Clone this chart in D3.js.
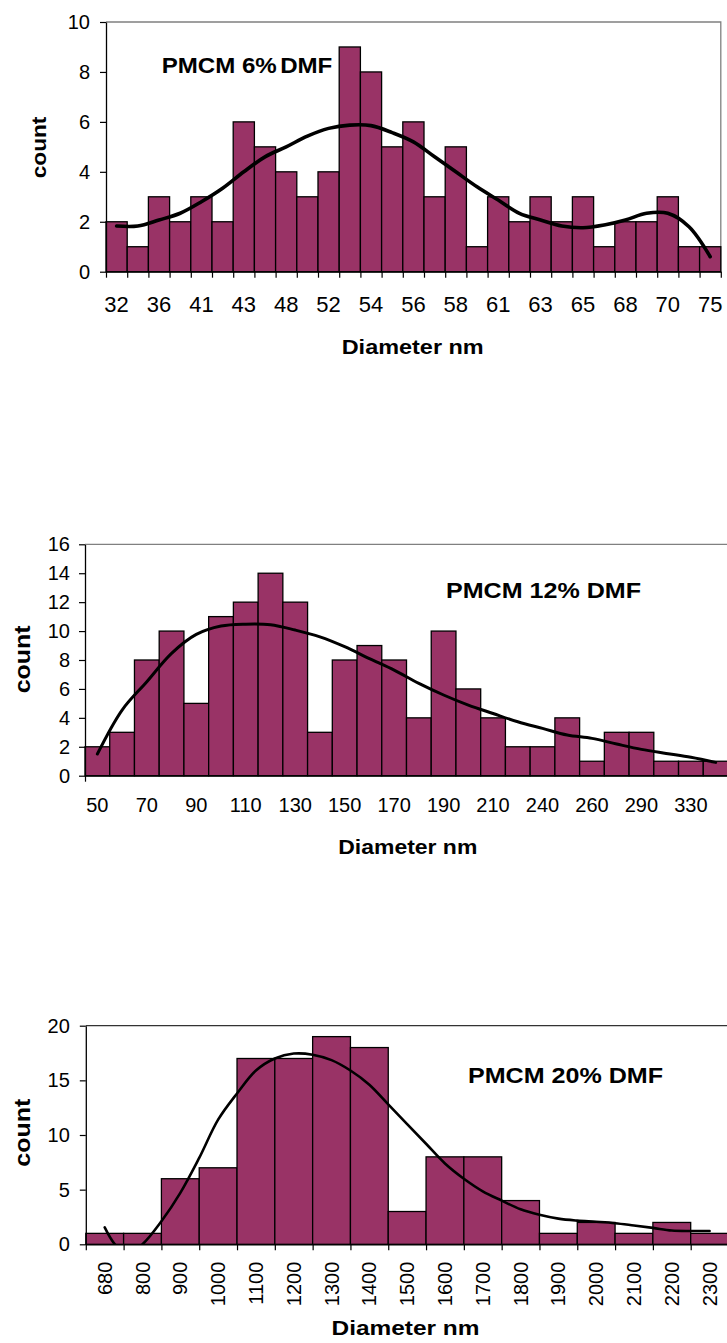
<!DOCTYPE html>
<html>
<head>
<meta charset="utf-8">
<script src="https://cdn.jsdelivr.net/npm/d3@7/dist/d3.min.js"></script>
<style>
  html, body { margin: 0; padding: 0; background: #fff; }
  svg { display: block; }
  text { font-family: "Liberation Sans", Arial, sans-serif; fill: #000; }
</style>
</head>
<body>
<svg id="chart" width="727" height="1343"></svg>
<script>
// ---- PMCM 6% DMF ----
const bins6 = ["32","34","36","38","41","42","43","45","48","50","52","53","54","55","56","57","58","60","61","62","63","64","65","67","68","69","70","72","75"];
const counts6 = [2,1,3,2,3,2,6,5,4,3,4,9,8,5,6,3,5,1,3,2,3,2,3,1,2,2,3,1,1];
const labels6 = ["32","36","41","43","48","52","54","56","58","61","63","65","68","70","75"];
const yTicks6 = [0,2,4,6,8,10];
// trend line: [bin position, count]
const trend6 = [[0,1.83],[1,1.83],[2,2.07],[3,2.34],[4,2.8],[5,3.34],[6,4.0],[7,4.6],[8,5.0],[9,5.43],[10,5.74],[11,5.87],[12,5.85],[13,5.57],[14,5.2],[15,4.6],[16,4.0],[17,3.4],[18,2.87],[19,2.34],[20,2.07],[21,1.83],[22,1.76],[23,1.87],[24,2.07],[25,2.34],[26,2.34],[27,1.8],[28,0.6]];

// ---- PMCM 12% DMF ----
const bins12 = ["50","60","70","80","90","100","110","120","130","140","150","160","170","180","190","200","210","220","240","250","260","280","290","310","330","350"];
const counts12 = [2,3,8,10,5,11,12,14,12,3,8,9,8,4,10,6,4,2,2,4,1,3,3,1,1,1];
const labels12 = ["50","70","90","110","130","150","170","190","210","240","260","290","330"];
const yTicks12 = [0,2,4,6,8,10,12,14,16];
const trend12 = [[0,1.5],[1,4.54],[2,6.5],[3,8.46],[4,9.77],[5,10.35],[6,10.48],[7,10.44],[8,10.07],[9,9.6],[10,8.92],[11,8.1],[12,7.3],[13,6.38],[14,5.58],[15,4.88],[16,4.3],[17,3.73],[18,3.27],[19,2.81],[20,2.58],[21,2.19],[22,1.82],[23,1.54],[24,1.27],[25,0.92]];

// ---- PMCM 20% DMF ----
const bins20 = ["680","800","900","1000","1100","1200","1300","1400","1500","1600","1700","1800","1900","2000","2100","2200","2300"];
const counts20 = [1,1,6,7,17,17,19,18,3,8,8,4,1,2,1,2,1];
const labels20 = bins20;
const yTicks20 = [0,5,10,15,20];
const trend20 = [[0,1.55],[0.27,0],[0.6,-0.9],[1,0],[1.5,2.1],[2,4.7],[2.5,7.9],[3,11.4],[3.5,13.8],[4,15.9],[4.5,17.0],[5,17.45],[5.5,17.35],[6,16.85],[6.5,15.9],[7,14.6],[7.5,12.8],[8,11.0],[8.5,9.2],[9,7.4],[9.5,6.0],[10,4.85],[10.5,4.0],[11,3.2],[11.5,2.7],[12,2.35],[12.5,2.17],[13,2.06],[13.5,1.93],[14,1.72],[14.5,1.5],[15,1.26],[15.5,1.22],[16,1.22]];

const svg = d3.select("#chart");
const BAR = "#993366";

function histogram(cfg) {
  const g = svg.append("g");
  const n = cfg.bins.length;
  const x = d3.scaleBand().domain(cfg.bins).range([cfg.left, cfg.right]).padding(0);
  const xi = d3.scaleLinear().domain([0, n]).range([cfg.left, cfg.right]);
  const y = d3.scaleLinear().domain([0, cfg.yMax]).range([cfg.bottom, cfg.top]);

  // plot border (top / right)
  g.append("path")
    .attr("d", `M${cfg.left},${cfg.top}H${cfg.right}V${cfg.bottom}`)
    .attr("fill", "none").attr("stroke", cfg.borderColor).attr("stroke-width", 1.3);

  // bars
  g.append("g").selectAll("rect").data(cfg.counts).join("rect")
    .attr("x", (d, i) => x(cfg.bins[i]))
    .attr("y", d => y(d))
    .attr("width", x.bandwidth())
    .attr("height", d => y(0) - y(d))
    .attr("fill", BAR).attr("stroke", "#000").attr("stroke-width", 1.3);

  // trend curve, clipped to plot area
  const clipId = "clip" + cfg.id;
  svg.append("clipPath").attr("id", clipId).append("rect")
    .attr("x", cfg.left).attr("y", cfg.top)
    .attr("width", cfg.right - cfg.left).attr("height", cfg.bottom - cfg.top);
  const line = d3.line()
    .x(d => xi(d[0] + 0.5))
    .y(d => y(d[1]))
    .curve(d3.curveCatmullRom.alpha(0.5));
  g.append("path").datum(cfg.trend)
    .attr("clip-path", `url(#${clipId})`)
    .attr("d", line).attr("fill", "none")
    .attr("stroke", "#000").attr("stroke-width", cfg.lineWidth)
    .attr("stroke-linejoin", "round").attr("stroke-linecap", "round");

  // y axis
  const ya = g.append("g").attr("transform", `translate(${cfg.left},0)`)
    .call(d3.axisLeft(y).tickValues(cfg.yTicks).tickSize(6).tickSizeOuter(0).tickPadding(cfg.yPad));
  ya.select(".domain").attr("stroke", "#000").attr("stroke-width", 1.3);
  ya.selectAll(".tick line").attr("stroke", "#000").attr("stroke-width", 1.2);
  ya.selectAll(".tick text").style("font-family", '"Liberation Sans", Arial, sans-serif')
    .style("font-size", cfg.yFont + "px").attr("fill", "#000");

  // x axis line and boundary ticks
  const xa = g.append("g").attr("transform", `translate(0,${cfg.bottom})`)
    .call(d3.axisBottom(xi).tickValues(cfg.xTickIdx).tickSize(cfg.xTickLen).tickSizeOuter(0).tickFormat(""));
  xa.select(".domain").attr("stroke", "#000").attr("stroke-width", 1.3);
  xa.selectAll(".tick line").attr("stroke", "#000").attr("stroke-width", 1.2);

  // category labels
  const lab = g.append("g").selectAll("text").data(cfg.labels).join("text")
    .style("font-size", cfg.xFont + "px");
  if (cfg.rotate) {
    lab.attr("transform", d => `translate(${x(d) + x.bandwidth() / 2},${cfg.xLabelY}) rotate(-90)`)
      .attr("text-anchor", "end").attr("dy", "0.35em").text(d => d);
  } else {
    lab.attr("x", d => x(d) + x.bandwidth() / 2).attr("y", cfg.xLabelY)
      .attr("text-anchor", "middle").text(d => d);
  }

  // axis titles
  g.append("text").attr("x", cfg.xTitle[0]).attr("y", cfg.xTitle[1])
    .attr("textLength", cfg.xTitle[2]).attr("lengthAdjust", "spacingAndGlyphs")
    .style("font-size", "21px").style("font-weight", "bold").text("Diameter nm");
  g.append("text")
    .attr("transform", `translate(${cfg.yTitle[0]},${cfg.yTitle[1]}) rotate(-90)`)
    .attr("textLength", cfg.yTitle[2]).attr("lengthAdjust", "spacingAndGlyphs")
    .style("font-size", cfg.yTitle[3] + "px").style("font-weight", "bold").text("count");

  // chart title
  const t = g.append("text").attr("x", cfg.title[0]).attr("y", cfg.title[1])
    .attr("textLength", cfg.title[2]).attr("lengthAdjust", "spacingAndGlyphs")
    .style("font-size", "22px").style("font-weight", "bold");
  if (cfg.titleParts) {
    t.append("tspan").text(cfg.titleParts[0]);
    t.append("tspan").attr("dx", -3).text(cfg.titleParts[1]);
  } else {
    t.text(cfg.titleText);
  }
}

histogram({
  id: 6, bins: bins6, counts: counts6, labels: labels6, yTicks: yTicks6, trend: trend6,
  left: 106, right: 720.8, top: 22, bottom: 271.7, yMax: 10,
  borderColor: "#808080", lineWidth: 3.6, yFont: 20, yPad: 10, xFont: 22,
  xTickIdx: d3.range(bins6.length + 1), xTickLen: 6, xLabelY: 311.5,
  xTitle: [341.7, 354, 142], yTitle: [46, 178.3, 61.7, 20],
  title: [161.7, 72.7, 170.6], titleParts: ["PMCM 6%", " DMF"]
});

histogram({
  id: 12, bins: bins12, counts: counts12, labels: labels12, yTicks: yTicks12, trend: trend12,
  left: 85, right: 728, top: 544.3, bottom: 775.7, yMax: 16,
  borderColor: "#808080", lineWidth: 3, yFont: 20, yPad: 9, xFont: 20,
  xTickIdx: [0], xTickLen: 6, xLabelY: 811.5,
  xTitle: [338.3, 854, 139], yTitle: [30, 693.3, 68, 22],
  title: [446, 597.5, 195], titleText: "PMCM 12% DMF"
});

histogram({
  id: 20, bins: bins20, counts: counts20, labels: labels20, yTicks: yTicks20, trend: trend20,
  left: 85.8, right: 728.5, top: 1025.7, bottom: 1244.3, yMax: 20,
  borderColor: "#333", lineWidth: 2.6, yFont: 20, yPad: 10, xFont: 20, rotate: true,
  xTickIdx: d3.range(bins20.length + 1), xTickLen: 6, xLabelY: 1261.7,
  xTitle: [331.5, 1335, 148], yTitle: [30, 1166.7, 68, 22],
  title: [468, 1083.3, 195], titleText: "PMCM 20% DMF"
});
</script>
</body>
</html>
